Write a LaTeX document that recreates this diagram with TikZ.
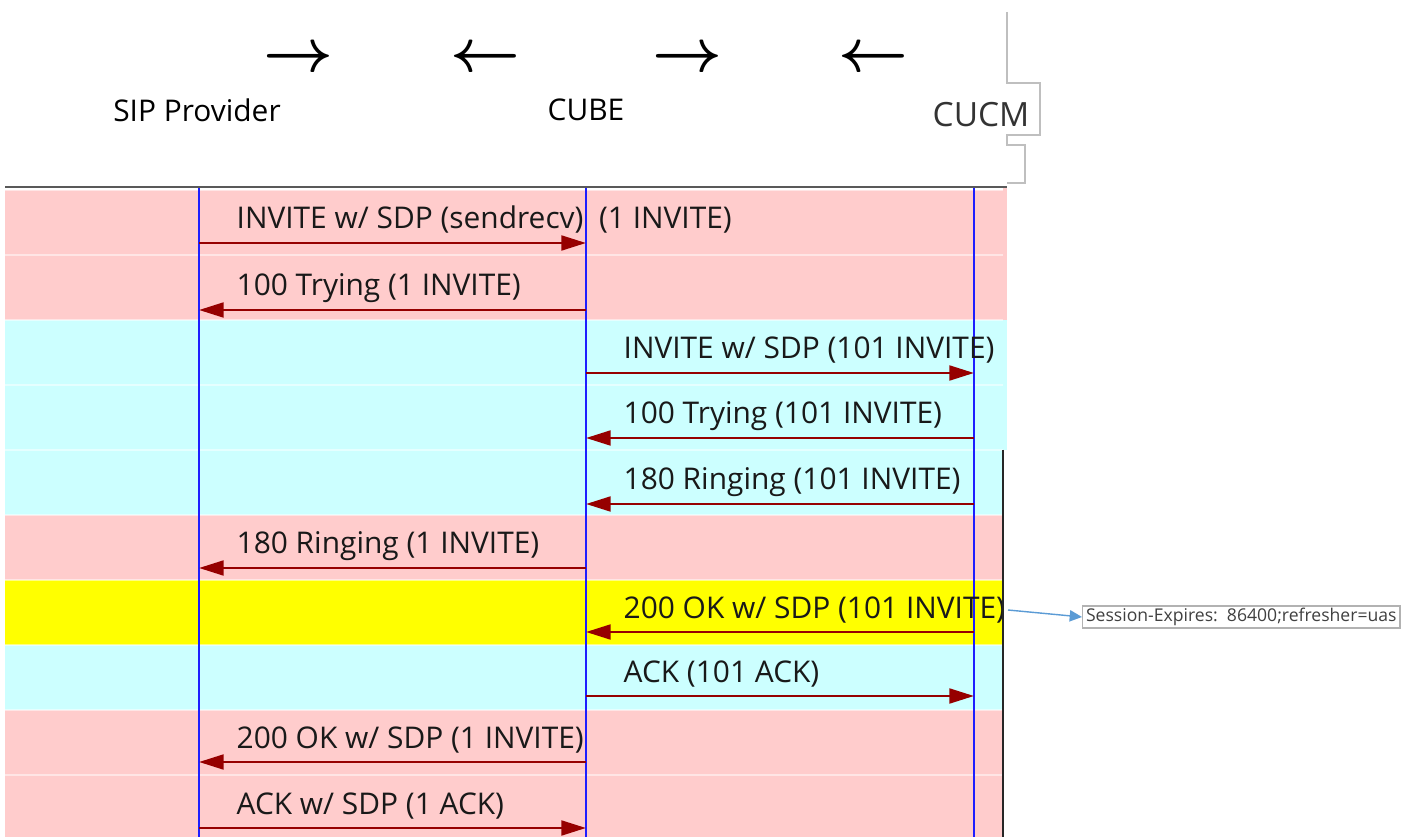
\documentclass[tikz,border=0pt]{standalone}
\usepackage{fontspec}
\setmainfont{Open Sans}
\usetikzlibrary{arrows.meta, positioning}

\definecolor{rowpink}{RGB}{255,204,204}
\definecolor{rowcyan}{RGB}{204,255,255}
\definecolor{rowyellow}{RGB}{255,255,0}
\definecolor{msgred}{RGB}{150,0,0}
\definecolor{lifeblue}{RGB}{30,30,255}
\definecolor{noteblue}{RGB}{91,155,213}

\begin{document}
\begin{tikzpicture}[
    x=0.01cm, y=-0.01cm,
    every node/.style={font=\fontsize{8.5}{10}\selectfont, inner sep=0pt},
    msg/.style={draw=msgred, line width=0.75pt, -{Triangle[length=7pt, width=4.2pt]}},
    msglabel/.style={anchor=base west, text=black!90},
    lifeline/.style={draw=lifeblue, line width=0.7pt},
    headarrow/.style={font=\fontsize{16}{16}\selectfont\boldmath},
    frameline/.style={draw=black!25, line width=0.3pt}
]
\useasboundingbox (0,0) rectangle (1412,837);

% Row bands
\foreach \c [count=\i from 0] in {rowpink, rowpink, rowcyan, rowcyan, rowcyan,
                                  rowpink, rowyellow, rowcyan, rowpink, rowpink} {
    \fill[\c] (5, 190+65*\i) rectangle (1003, 255+65*\i);
    \draw[white, opacity=0.5, line width=0.4pt] (5, 190+65*\i) -- (1003, 190+65*\i);
}
\fill[rowpink] (1003,188) rectangle (1007,255);
\fill[rowpink] (1003,255) rectangle (1007,320);
\fill[rowcyan] (1003,320) rectangle (1007,450);

% Header line
\draw[black!65, line width=0.8pt] (5,187) -- (1007,187);

% Header
\node (sip)  at (197,110) {SIP Provider};
\node (cube) at (586,110) {CUBE};
\node[font=\fontsize{9.5}{11}\selectfont, text=black!80] (cucm) at (981,115) {CUCM};

\node[headarrow] (ha1) at (298,60) {$\rightarrow$};
\node[headarrow] (ha2) at (485,60) {$\leftarrow$};
\node[headarrow] (ha3) at (687,60) {$\rightarrow$};
\node[headarrow] (ha4) at (873,60) {$\leftarrow$};

% Frame remains top right
\draw[frameline] (1007,12) -- (1007,83) -- (1040,83) -- (1040,135) -- (1007,135) -- (1007,145)
    -- (1025,145) -- (1025,183) -- (1007,183);

% Lifelines
\coordinate (sipTop)  at (199,188);
\coordinate (cubeTop) at (586,188);
\coordinate (cucmTop) at (974,188);
\coordinate (sipEnd)  at (199,837);
\coordinate (cubeEnd) at (586,837);
\coordinate (cucmEnd) at (974,837);
\draw[lifeline] (sipTop) -- (sipEnd);
\draw[lifeline] (cubeTop) -- (cubeEnd);
\draw[lifeline] (cucmTop) -- (cucmEnd);

% Right border
\draw[black!85, line width=0.7pt] (1003,450) -- (1003,837);

% Message points
\foreach \y [count=\i] in {243,310,373,438,504,568,632,696,762,828} {
    \coordinate (s\i) at (199,\y);
    \coordinate (c\i) at (586,\y);
    \coordinate (m\i) at (974,\y);
}

% Messages
\foreach \a/\b in {s1/c1, c2/s2, c3/m3, m4/c4, m5/c5,
                   c6/s6, m7/c7, c8/m8, c9/s9, s10/c10}
    \draw[msg] (\a) -- (\b);

% Labels
\foreach \p/\t [count=\i] in {s1/{INVITE w/ SDP (sendrecv)\ \ (1 INVITE)},
                              s2/{100 Trying (1 INVITE)},
                              c3/{INVITE w/ SDP (101 INVITE)},
                              c4/{100 Trying (101 INVITE)},
                              c5/{180 Ringing (101 INVITE)},
                              s6/{180 Ringing (1 INVITE)},
                              c8/{ACK (101 ACK)},
                              s9/{200 OK w/ SDP (1 INVITE)},
                              s10/{ACK w/ SDP (1 ACK)}}
    \path (\p) ++(37,-14) node[msglabel] (t\i) {\t};

\begin{scope}
    \clip (5,580) rectangle (1001,645);
    \path (c7) ++(37,-14) node[msglabel] (t7) {200 OK w/ SDP (101 INVITE)};
\end{scope}

% Session note
\node[draw=black!30, fill=white, line width=0.3pt, anchor=west, minimum height=22*0.01cm,
      inner xsep=1pt, font=\fontsize{5}{6}\selectfont, text=black!75] (note) at (1082,617)
    {Session-Expires:\ \ 86400;refresher=uas};
\coordinate (noteFrom) at (1008,610);
\draw[noteblue, line width=0.4pt, -{Triangle[length=3.5pt, width=3.2pt]}] (noteFrom) -- (note.west);

\end{tikzpicture}
\end{document}
